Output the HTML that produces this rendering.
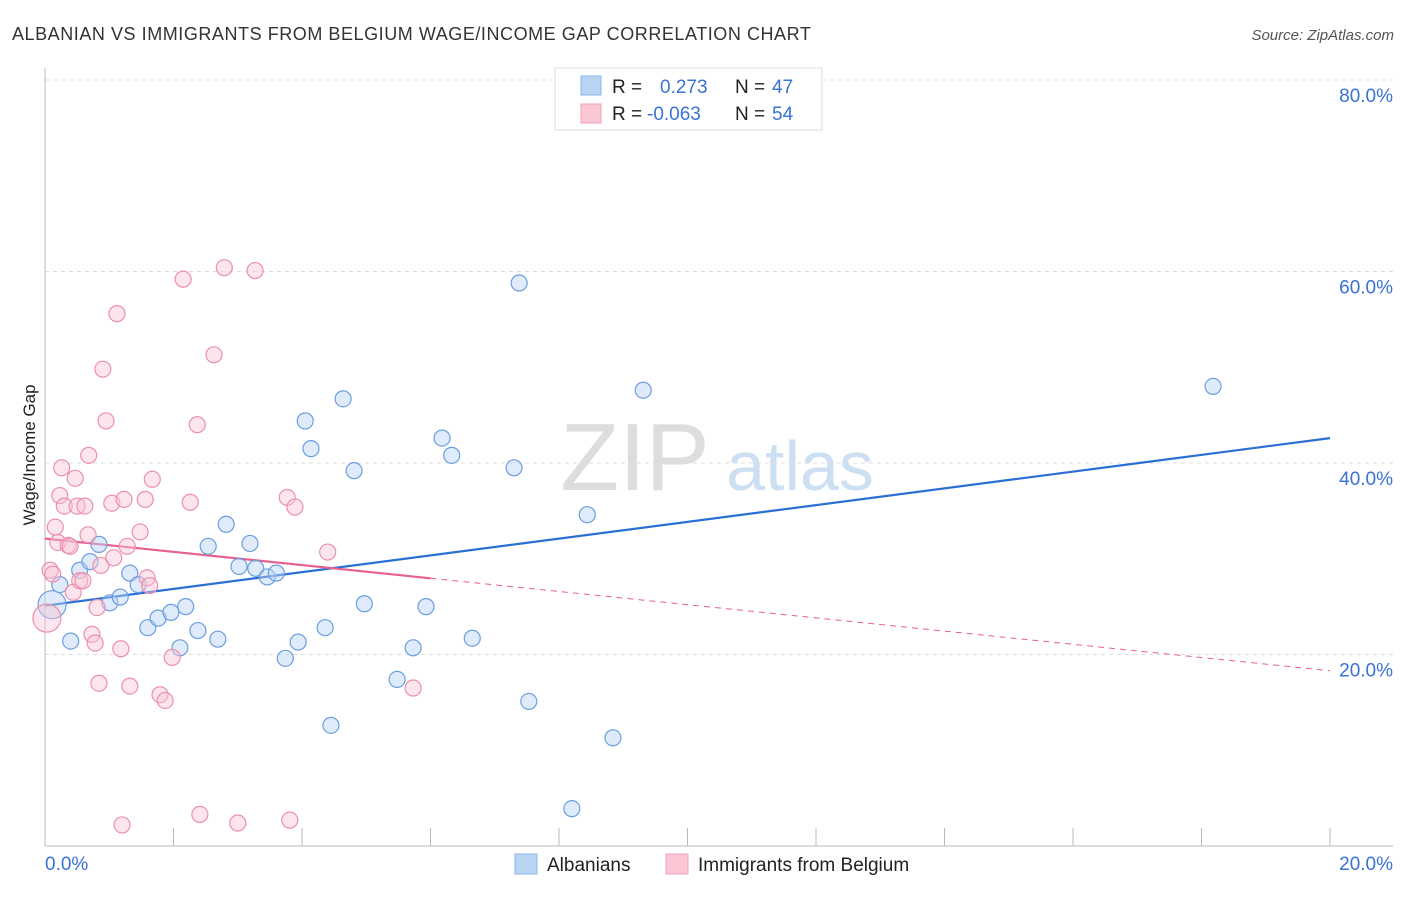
<!DOCTYPE html>
<html><head><meta charset="utf-8"><style>
body{margin:0;background:#fff;font-family:"Liberation Sans",sans-serif;}
svg text{font-family:"Liberation Sans",sans-serif;}
</style></head><body>
<svg width="1406" height="892" viewBox="0 0 1406 892" id="chart">
<text x="12" y="40" font-size="18" fill="#333" letter-spacing="0.55">ALBANIAN VS IMMIGRANTS FROM BELGIUM WAGE/INCOME GAP CORRELATION CHART</text>
<text x="1394" y="40" font-size="15" fill="#555" text-anchor="end" font-style="italic">Source: ZipAtlas.com</text>
<text x="35" y="455" font-size="17" fill="#222" text-anchor="middle" transform="rotate(-90 35 455)">Wage/Income Gap</text>
<g>
<text x="635" y="490" font-size="96" fill="#ddd" text-anchor="middle" font-family="Liberation Serif">ZIP</text>
<text x="800" y="490" font-size="70" fill="#cddff3" text-anchor="middle">atlas</text>
</g>
<g id="grid"></g><g id="axes"></g><g id="lines"></g><g id="pts"></g>
<g>
<rect x="555" y="68" width="267" height="62" fill="#fff" stroke="#ddd"/>
<rect x="581" y="76" width="20" height="19" fill="#b9d3f3" stroke="#8ab4e8"/>
<rect x="581" y="104" width="20" height="19" fill="#f9c6d4" stroke="#f0a0b8"/>
<text x="612" y="93" font-size="19" fill="#222">R =</text>
<text x="660" y="93" font-size="19" fill="#3a72d8">0.273</text>
<text x="735" y="93" font-size="19" fill="#222">N =</text>
<text x="772" y="93" font-size="19" fill="#3a72d8">47</text>
<text x="612" y="120" font-size="19" fill="#222">R =</text>
<text x="647" y="120" font-size="19" fill="#3a72d8">-0.063</text>
<text x="735" y="120" font-size="19" fill="#222">N =</text>
<text x="772" y="120" font-size="19" fill="#3a72d8">54</text>
</g>
<g>
<rect x="515" y="854" width="22" height="20" fill="#b9d3f3" stroke="#8ab4e8"/>
<text x="547" y="871" font-size="19" fill="#222">Albanians</text>
<rect x="666" y="854" width="22" height="20" fill="#f9c6d4" stroke="#f0a0b8"/>
<text x="698" y="871" font-size="19" fill="#222">Immigrants from Belgium</text>
</g>
</svg>
<script>
const blueX=[0.11,0.23,0.40,0.54,0.70,0.84,1.01,1.17,1.32,1.45,1.60,1.76,1.96,2.19,2.10,2.38,2.54,2.69,2.82,3.02,3.19,3.28,3.46,3.60,3.74,3.94,4.05,4.14,4.36,4.45,4.64,4.81,4.97,5.48,5.73,5.93,6.18,6.33,6.65,7.30,7.38,7.53,8.20,8.44,8.84,9.31,18.18];
const blueY=[25.2,27.3,21.4,28.8,29.7,31.5,25.4,26.0,28.5,27.3,22.8,23.8,24.4,25.0,20.7,22.5,31.3,21.6,33.6,29.2,31.6,29.0,28.1,28.5,19.6,21.3,44.4,41.5,22.8,12.6,46.7,39.2,25.3,17.4,20.7,25.0,42.6,40.8,21.7,39.5,58.8,15.1,3.9,34.6,11.3,47.6,48.0];
const pinkX=[0.03,0.08,0.12,0.16,0.20,0.23,0.26,0.30,0.36,0.39,0.44,0.47,0.50,0.54,0.59,0.62,0.67,0.68,0.73,0.78,0.81,0.84,0.87,0.90,0.95,1.04,1.07,1.12,1.18,1.23,1.28,1.32,1.48,1.56,1.59,1.63,1.67,1.79,1.87,1.98,2.15,2.26,2.37,2.41,2.63,2.79,3.00,3.27,3.77,3.81,3.89,4.40,5.73,1.20];
const pinkY=[23.8,28.8,28.4,33.3,31.7,36.6,39.5,35.5,31.4,31.3,26.5,38.4,35.5,27.7,27.7,35.5,32.5,40.8,22.1,21.2,24.9,17.0,29.3,49.8,44.4,35.8,30.1,55.6,20.6,36.2,31.3,16.7,32.8,36.2,28.0,27.2,38.3,15.8,15.2,19.7,59.2,35.9,44.0,3.3,51.3,60.4,2.4,60.1,36.4,2.7,35.4,30.7,16.5,2.2];
const blueTrend=[25.1,42.6];
const pinkTrend=[32.1,18.3];
const pinkSolidEnd=6;
const yTicks=[20,40,60,80];
const xTickLabels=["0.0%","20.0%"];
const NS="http://www.w3.org/2000/svg";
const X=v=>45+v*64.25, Y=v=>846-v*9.575;
function mk(tag,attrs,parent){const e=document.createElementNS(NS,tag);for(const k in attrs)e.setAttribute(k,attrs[k]);document.getElementById(parent).appendChild(e);return e;}
yTicks.forEach(t=>{
 const l=mk('line',{x1:45,x2:1393,y1:Y(t),y2:Y(t),stroke:'#ddd','stroke-dasharray':'4 4'},'grid');
 
 
 const tx=mk('text',{x:1393,y:Y(t)+22,'font-size':19,fill:'#3a72d8','text-anchor':'end'},'grid');
 tx.textContent=t.toFixed(1)+'%';
 
 
});
const ax=mk('line',{x1:45,x2:1393,y1:846,y2:846,stroke:'#bbb'},'axes');


const ay=mk('line',{x1:45,x2:45,y1:68,y2:846,stroke:'#bbb'},'axes');


for(let i=0;i<=20;i+=2){const t=mk('line',{x1:X(i),x2:X(i),y1:828,y2:846,stroke:'#bbb'},'axes');
 
 }
const xl0=mk('text',{x:45,y:870,'font-size':19,fill:'#3a72d8'},'axes');xl0.textContent=xTickLabels[0];


const xl1=mk('text',{x:1393,y:870,'font-size':19,fill:'#3a72d8','text-anchor':'end'},'axes');xl1.textContent=xTickLabels[1];


function pts(xs,ys,fill,stroke,name){xs.forEach((x,i)=>{const r=i===0?14:8;
 const c=mk('circle',{cx:X(x),cy:Y(ys[i]),r:r,fill:fill,'fill-opacity':0.45,stroke:stroke,'stroke-width':1.2},'pts');
 
 });}
pts(blueX,blueY,'#b9d3f3','#6a9ee0','albanians-point');
pts(pinkX,pinkY,'#f9c6d4','#ec8fae','belgium-point');
const bt=mk('line',{x1:X(0),y1:Y(blueTrend[0]),x2:X(20),y2:Y(blueTrend[1]),stroke:'#2a6fd6','stroke-width':2.2},'lines');


const pAt=x=>pinkTrend[0]+(pinkTrend[1]-pinkTrend[0])*x/20;
const ps=mk('line',{x1:X(0),y1:Y(pAt(0)),x2:X(pinkSolidEnd),y2:Y(pAt(pinkSolidEnd)),stroke:'#e8608e','stroke-width':2.2},'lines');


const pd=mk('line',{x1:X(pinkSolidEnd),y1:Y(pAt(pinkSolidEnd)),x2:X(20),y2:Y(pAt(20)),stroke:'#e8608e','stroke-width':1,'stroke-dasharray':'6 5'},'lines');


</script>
</body></html>
